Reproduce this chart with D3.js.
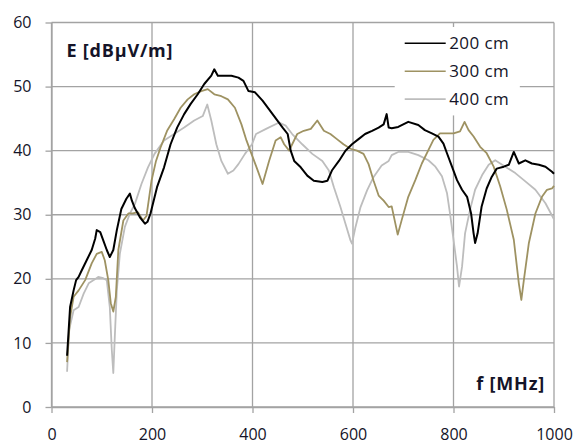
<!DOCTYPE html>
<html>
<head>
<meta charset="utf-8">
<script src="https://d3js.org/d3.v7.min.js"></script>
<style>
  body { margin: 0; background: #fff; }
  text { font-family: "Open Sans", "Liberation Sans", sans-serif; fill: #141428; }
</style>
</head>
<body>
<div id="my_dataviz"></div>
<script>
// values: frequency [MHz] / field strength [dBuV/m]
const freq200 = [31, 37, 44, 49, 54, 60, 70, 80, 87, 90, 97, 103, 110, 116, 123, 130, 139, 149, 156, 160, 166, 176, 186, 191, 197, 210, 224, 237, 250, 264, 277, 291, 304, 318, 324, 331, 345, 358, 372, 382, 392, 405, 420, 440, 460, 470, 476, 483, 496, 509, 522, 539, 549, 558, 572, 585, 598, 611, 624, 638, 651, 661, 667, 671, 677, 690, 710, 730, 743, 757, 770, 780, 787, 797, 807, 817, 827, 835, 840, 843, 848, 856, 866, 876, 886, 900, 910, 920, 930, 943, 956, 970, 983, 996, 1000];
const e200 = [8, 15.6, 18.2, 19.8, 20.3, 21.3, 22.9, 24.5, 26.3, 27.6, 27.3, 26, 24.5, 23.4, 24.5, 27.6, 30.9, 32.5, 33.3, 32.2, 31, 29.6, 28.6, 28.9, 30.2, 34.3, 37.4, 41, 43.6, 45.7, 47.3, 48.8, 50.4, 51.7, 52.7, 51.7, 51.7, 51.7, 51.4, 50.9, 49.3, 49.1, 47.8, 45.7, 43.6, 42.6, 40, 38.4, 37.4, 36.1, 35.3, 35.1, 35.3, 36.9, 38.4, 40, 41, 41.8, 42.6, 43.1, 43.6, 44.1, 45.7, 43.6, 43.5, 43.7, 44.5, 44, 43.2, 42.7, 42.2, 41.1, 39.6, 37.5, 35.4, 33.9, 32.8, 30.2, 27.1, 25.6, 27.1, 31.3, 34.1, 35.9, 37.2, 37.5, 37.8, 39.8, 38, 38.5, 38, 37.8, 37.5, 36.7, 36.4];

const freq300 = [31, 37, 44, 54, 67, 80, 90, 100, 106, 113, 118, 123, 128, 133, 143, 153, 162, 172, 182, 189, 199, 208, 217, 230, 244, 257, 271, 284, 298, 311, 324, 338, 351, 365, 378, 388, 398, 409, 420, 433, 446, 456, 463, 473, 479, 489, 502, 516, 529, 542, 555, 568, 581, 595, 608, 621, 631, 641, 651, 661, 671, 677, 689, 697, 710, 724, 737, 750, 760, 773, 787, 800, 813, 822, 830, 840, 853, 866, 880, 893, 906, 920, 930, 935, 940, 950, 963, 976, 986, 996, 1000];
const e300 = [7, 14, 17.2, 18.2, 19.8, 22.4, 23.9, 24.2, 22.9, 19.8, 16.2, 14.9, 17.2, 24.5, 29.1, 30.2, 30.2, 30.4, 29.1, 29.8, 35.3, 38.4, 40.5, 43.1, 44.9, 46.7, 48, 48.8, 49.3, 49.6, 48.8, 48.5, 48, 46.7, 44.1, 41.6, 39.5, 37.2, 34.8, 38.4, 41.6, 42.1, 41, 40, 41, 42.6, 43.1, 43.4, 44.7, 43.1, 42.6, 41.8, 41, 40.3, 40, 39.5, 37.9, 35.3, 33, 32.2, 31.2, 31.3, 26.9, 29.2, 32.8, 35.4, 38, 40.1, 41.7, 42.7, 42.7, 42.7, 43, 44.5, 43.2, 42.2, 40.6, 39.6, 37.5, 34.4, 30.8, 26.1, 19.3, 16.7, 19.8, 25.6, 30.2, 32.8, 33.9, 34.1, 34.5];

const freq400 = [31, 35, 44, 54, 64, 74, 84, 93, 103, 110, 116, 120, 123, 126, 130, 136, 146, 156, 166, 179, 192, 205, 224, 244, 264, 284, 301, 310, 318, 328, 338, 351, 362, 372, 385, 399, 407, 427, 453, 466, 479, 499, 519, 539, 552, 562, 575, 585, 595, 598, 605, 615, 628, 641, 657, 671, 677, 690, 710, 730, 750, 764, 777, 787, 793, 800, 807, 811, 817, 823, 833, 843, 857, 870, 883, 903, 923, 943, 963, 983, 1000];
const e400 = [5.5, 12, 15.1, 15.6, 17.7, 19.3, 19.8, 20.3, 20.1, 19.8, 15.6, 8.9, 5.3, 11, 18.2, 23.9, 28.1, 30.2, 31.7, 34.8, 37.4, 39.5, 41.6, 42.6, 43.6, 44.7, 45.4, 47.2, 44.7, 41, 38.4, 36.4, 36.9, 37.9, 39.5, 41, 42.6, 43.4, 44.4, 43.9, 42.6, 41, 39.5, 38.4, 36.9, 34.3, 31.2, 28.6, 26, 25.5, 28.1, 31.2, 33.8, 35.9, 37.7, 38.4, 39.3, 39.8, 39.8, 39.3, 38.5, 37.5, 36, 33.4, 30.2, 26.1, 21.9, 18.8, 21.9, 27.1, 30.8, 33.9, 36.2, 37.8, 38.5, 37.5, 36.5, 35.2, 33.9, 31.8, 29.3];

const seriesNames = ['200 cm', '300 cm', '400 cm'];
const seriesColors = ['#000000', '#9e9262', '#bdbdbd'];
const xTicks = [0, 200, 400, 600, 800, 1000];
const yTicks = [0, 10, 20, 30, 40, 50, 60];

draw_plot();

function draw_plot() {
  const margin = {top: 22.5, right: 23, bottom: 38, left: 51.5},
      width = 577 - margin.left - margin.right,
      height = 445 - margin.top - margin.bottom;

  const svg = d3.select("#my_dataviz")
    .append("svg")
      .attr("width", 577)
      .attr("height", 445)
    .append("g")
      .attr("transform", `translate(${margin.left},${margin.top})`);

  const x = d3.scaleLinear().domain([0, 1000]).range([0, width]);
  const y = d3.scaleLinear().domain([0, 60]).range([height, 0]);

  // grid
  svg.append("g")
    .selectAll("line")
    .data(yTicks)
    .join("line")
      .attr("x1", 0).attr("x2", width)
      .attr("y1", d => y(d)).attr("y2", d => y(d))
      .attr("stroke", "#a3a3a3").attr("stroke-width", 1.3);
  svg.append("g")
    .selectAll("line")
    .data(xTicks)
    .join("line")
      .attr("x1", d => x(d)).attr("x2", d => x(d))
      .attr("y1", 0).attr("y2", height)
      .attr("stroke", "#a3a3a3").attr("stroke-width", 1.3);

  // axes
  const xAxis = svg.append("g")
    .attr("transform", `translate(0, ${height})`)
    .call(d3.axisBottom(x).tickValues(xTicks).tickFormat(d3.format("d"))
      .tickSize(6).tickPadding(16).tickSizeOuter(0));
  const yAxis = svg.append("g")
    .call(d3.axisLeft(y).tickValues(yTicks).tickSize(6).tickPadding(14).tickSizeOuter(0));
  [xAxis, yAxis].forEach(a => {
    a.select(".domain").attr("stroke", "#a3a3a3").attr("stroke-width", 1.3);
    a.selectAll(".tick line").attr("stroke", "#a3a3a3").attr("stroke-width", 1.3);
    a.selectAll("text")
      .attr("font-size", 16)
      .attr("font-family", '"Open Sans", sans-serif')
      .attr("fill", "#141428");
  });

  // lines
  const series = [[freq200, e200], [freq300, e300], [freq400, e400]];
  const line = d3.line().x(d => x(d[0])).y(d => y(d[1]));
  // draw 400 first so black sits on top
  [2, 1, 0].forEach(i => {
    const pts = series[i][0].map((f, k) => [f, series[i][1][k]]);
    svg.append("path")
      .datum(pts)
      .attr("fill", "none")
      .attr("stroke", seriesColors[i])
      .attr("stroke-width", i == 0 ? 2 : 1.8)
      .attr("stroke-linejoin", "round")
      .attr("d", line);
  });

  // legend, white box hides the grid behind it
  const lg = svg.append("g").attr("transform", `translate(${x(683)}, ${y(59.3)})`);
  lg.append("rect")
    .attr("width", x(932) - x(683))
    .attr("height", y(45.5) - y(59.3))
    .attr("fill", "#fff");

  seriesNames.forEach((name, i) => {
    const ly = 16.3 + i * 27.9;
    lg.append("line")
      .attr("x1", 10).attr("x2", 51)
      .attr("y1", ly).attr("y2", ly)
      .attr("stroke", seriesColors[i]).attr("stroke-width", 1.6);
    lg.append("text")
      .attr("x", 54.5).attr("y", ly)
      .attr("dy", "0.36em")
      .attr("font-size", 17)
      .attr("letter-spacing", 0.4)
      .text(name);
  });

  // axis titles inside the plot
  svg.append("text")
    .attr("x", 15).attr("y", y(55.7))
    .attr("dy", "0.36em")
    .attr("font-size", 18).attr("font-weight", "bold")
    .attr("letter-spacing", 0.8)
    .text("E [dBµV/m]");
  svg.append("text")
    .attr("x", width - 9).attr("y", y(3.7))
    .attr("dy", "0.36em")
    .attr("text-anchor", "end")
    .attr("font-size", 18).attr("font-weight", "bold")
    .attr("letter-spacing", 0.8)
    .text("f [MHz]");
}
</script>
</body>
</html>
